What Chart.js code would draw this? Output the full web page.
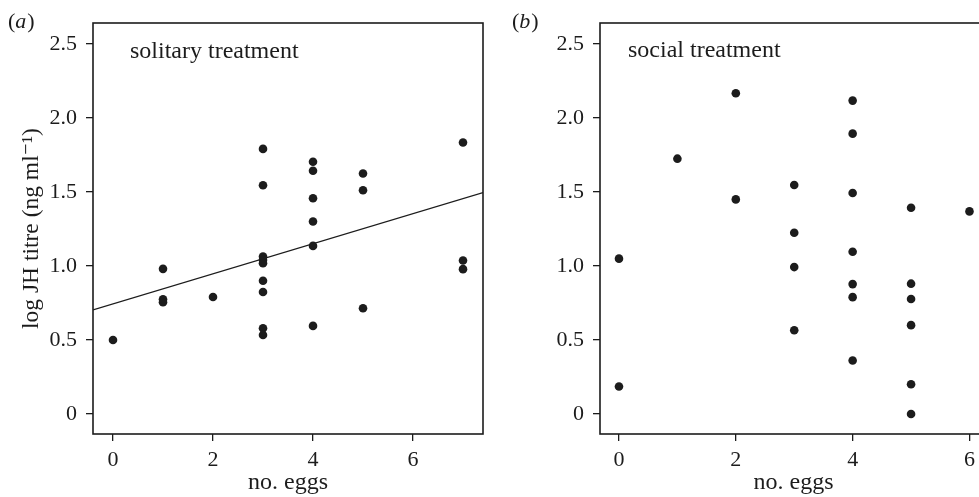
<!DOCTYPE html>
<html>
<head>
<meta charset="utf-8">
<script src="https://cdn.jsdelivr.net/npm/chart.js@4.4.0/dist/chart.umd.min.js"></script>
<style>
	html, body { margin: 0; padding: 0; background: #fff; overflow: hidden; }
	#wrap { position: relative; width: 979px; height: 497px; overflow: hidden; }
	#chartA { position: absolute; left: 0; top: 0; }
	#chartB { position: absolute; left: 490px; top: 0; }
</style>
</head>
<body>
<div id="wrap">
	<canvas id="chartA" width="490" height="497"></canvas>
	<canvas id="chartB" width="505" height="497"></canvas>
</div>
<script>
const xTicks = [0, 2, 4, 6];
const yTicks = [0, 0.5, 1.0, 1.5, 2.0, 2.5];

// (a) solitary treatment
const solitaryEggs = [0, 1, 1, 1, 2, 3, 3, 3, 3, 3, 3, 3, 3, 3, 4, 4, 4, 4, 4, 4, 5, 5, 5, 7, 7, 7];
const solitaryJH = [0.50, 0.98, 0.775, 0.755, 0.79, 1.79, 1.545, 1.063, 1.04, 1.018, 0.90, 0.824, 0.579, 0.534,
	1.703, 1.642, 1.457, 1.30, 1.135, 0.595, 1.624, 1.511, 0.714, 1.833, 1.036, 0.978];
const fitEggs = [-0.4, 7.4];
const fitJH = [0.703, 1.495];

// (b) social treatment
const socialEggs = [0, 0, 1, 2, 2, 3, 3, 3, 3, 4, 4, 4, 4, 4, 4, 4, 5, 5, 5, 5, 5, 5, 6];
const socialJH = [1.049, 0.186, 1.724, 2.166, 1.449, 1.546, 1.224, 0.992, 0.566,
	2.116, 1.893, 1.492, 1.096, 0.877, 0.789, 0.361, 1.393, 0.88, 0.776, 0.60, 0.201, 0.0, 1.368];

const ink = '#1c1c1c';
const serif = '"Liberation Serif", "DejaVu Serif", serif';

const framePlugin = {
	id: 'frame',
	afterDraw(chart, args, opts) {
		const { ctx, chartArea: a } = chart;
		ctx.save();
		ctx.strokeStyle = ink;
		ctx.lineWidth = 1.6;
		ctx.strokeRect(a.left, a.top, a.right - a.left, a.bottom - a.top);

		// panel letter, e.g. (a) with italic letter
		ctx.fillStyle = ink;
		ctx.textBaseline = 'alphabetic';
		let x = opts.letterX;
		const y = opts.letterY;
		ctx.font = '22px ' + serif;
		ctx.fillText('(', x, y);
		x += ctx.measureText('(').width;
		ctx.font = 'italic 22px ' + serif;
		ctx.fillText(opts.letter, x, y);
		x += ctx.measureText(opts.letter).width + 1;
		ctx.font = '22px ' + serif;
		ctx.fillText(')', x, y);

		// treatment label
		ctx.font = '24px ' + serif;
		ctx.fillText(opts.label, a.left + opts.labelDx, a.top + opts.labelDy);
		ctx.restore();
	}
};

function makeChart(canvasId, eggs, jh, cfg) {
	const datasets = [{
		type: 'scatter',
		data: eggs.map((e, i) => ({ x: e, y: jh[i] })),
		pointRadius: 4.3,
		pointBackgroundColor: ink,
		pointBorderWidth: 0,
		order: 1
	}];
	if (cfg.fit) {
		datasets.push({
			type: 'line',
			data: cfg.fit.x.map((e, i) => ({ x: e, y: cfg.fit.y[i] })),
			borderColor: ink,
			borderWidth: 1.3,
			pointRadius: 0,
			fill: false,
			order: 2
		});
	}

	return new Chart(document.getElementById(canvasId), {
		data: { datasets: datasets },
		plugins: [framePlugin],
		options: {
			responsive: false,
			animation: false,
			layout: { padding: { top: 23, right: cfg.padRight, left: 0, bottom: 0 } },
			plugins: {
				legend: { display: false },
				tooltip: { enabled: false },
				frame: cfg.frame
			},
			scales: {
				x: {
					type: 'linear',
					min: cfg.xMin,
					max: cfg.xMax,
					afterBuildTicks: scale => { scale.ticks = xTicks.map(v => ({ value: v })); },
					afterFit: scale => {
						scale.height = 63;
						scale.paddingLeft = 0; scale.paddingRight = 0;
					},
					grid: { drawOnChartArea: false, drawTicks: true, tickLength: 7, color: ink, lineWidth: 1.3 },
					border: { display: false },
					ticks: { color: ink, font: { family: serif, size: 22 }, padding: 6, maxRotation: 0 },
					title: {
						display: true, text: 'no. eggs', color: ink,
						font: { family: serif, size: 24 }, padding: { top: 0, bottom: 0 }
					}
				},
				y: {
					type: 'linear',
					min: -0.135,
					max: 2.64,
					afterBuildTicks: scale => { scale.ticks = yTicks.map(v => ({ value: v })); },
					afterFit: scale => {
						scale.width = cfg.yWidth;
						scale.paddingTop = 0; scale.paddingBottom = 0;
					},
					grid: { drawOnChartArea: false, drawTicks: true, tickLength: 7, color: ink, lineWidth: 1.3 },
					border: { display: false },
					ticks: {
						color: ink, font: { family: serif, size: 22 }, padding: cfg.yPad,
						callback: v => v === 0 ? '0' : v.toFixed(1)
					},
					title: {
						display: !!cfg.yTitle, text: cfg.yTitle || '', color: ink,
						font: { family: serif, size: 23.5 }, padding: { top: 18, bottom: 0 }
					}
				}
			}
		}
	});
}

makeChart('chartA', solitaryEggs, solitaryJH, {
	fit: { x: fitEggs, y: fitJH },
	xMin: -0.4, xMax: 7.4,
	yWidth: 93, yPad: 9, padRight: 7,
	yTitle: 'log JH titre (ng ml\u207B\u00B9)',
	frame: { letter: 'a', letterX: 8, letterY: 28, label: 'solitary treatment', labelDx: 37, labelDy: 35 }
});

makeChart('chartB', socialEggs, socialJH, {
	xMin: -0.325, xMax: 6.3,
	yWidth: 110, yPad: 9, padRight: 8,
	frame: { letter: 'b', letterX: 22, letterY: 28, label: 'social treatment', labelDx: 28, labelDy: 34 }
});
</script>
</body>
</html>
